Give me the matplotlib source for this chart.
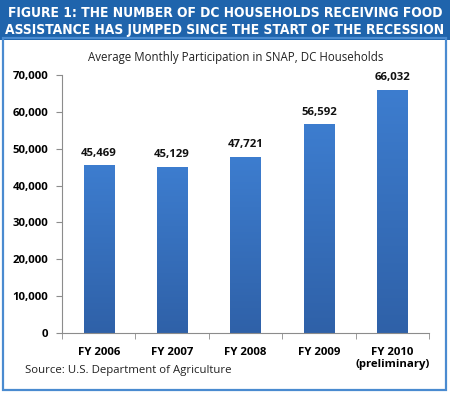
import matplotlib.pyplot as plt
import numpy as np
from matplotlib.colors import LinearSegmentedColormap
from matplotlib.patches import Rectangle
from matplotlib.ticker import FuncFormatter

categories = ["FY 2006", "FY 2007", "FY 2008", "FY 2009", "FY 2010\n(preliminary)"]
households = [45469, 45129, 47721, 56592, 66032]
y_ticks = [0, 10000, 20000, 30000, 40000, 50000, 60000, 70000]

HEADER = "#1f64ac"
FRAME = "#4a8bd0"
GRAY = "#8c8c8c"
TEXT_FONT = ["Open Sans", "DejaVu Sans"]
bar_cmap = LinearSegmentedColormap.from_list("bar", ["#2f61a8", "#3d7dcf"])

fig = plt.figure(figsize=(4.5, 3.93), dpi=100)

# header band and outer frame
fig.patches.append(Rectangle((0, 1 - 40 / 393), 1, 40 / 393, transform=fig.transFigure,
                             facecolor=HEADER, edgecolor="none", zorder=0))
fig.patches.append(Rectangle((3 / 450, 3 / 393), 443 / 450, 352 / 393, transform=fig.transFigure,
                             facecolor="none", edgecolor=FRAME, linewidth=1.6, zorder=0))
fig.text(0.5, 1 - 21.5 / 393,
         "FIGURE 1: THE NUMBER OF DC HOUSEHOLDS RECEIVING FOOD\nASSISTANCE HAS JUMPED SINCE THE START OF THE RECESSION",
         ha="center", va="center", color="white", fontsize=9.9, fontweight="bold",
         family="DejaVu Sans", fontstretch="condensed", linespacing=1.3)
fig.text(236 / 450, 1 - 57 / 393, "Average Monthly Participation in SNAP, DC Households",
         ha="center", va="center", fontsize=8.3, color="#222222", family=TEXT_FONT)
fig.text(25 / 450, 1 - 370 / 393, "Source: U.S. Department of Agriculture",
         ha="left", va="center", fontsize=8.2, color="#222222", family=TEXT_FONT)

ax = fig.add_axes([62 / 450, 1 - 333 / 393, 367 / 450, 258 / 393])
x = np.arange(len(categories))
bars = ax.bar(x, households, width=0.41, color="none", edgecolor="none", zorder=2)
grad = np.linspace(0, 1, 256).reshape(-1, 1)
for b in bars:
    im = ax.imshow(grad, cmap=bar_cmap, origin="lower", aspect="auto", zorder=2,
                   extent=[b.get_x(), b.get_x() + b.get_width(), 0, b.get_height()])
    im.set_clip_path(b)
for xi, v in zip(x, households):
    ax.text(xi, v + 1800, f"{v:,}", ha="center", va="bottom", fontsize=8.2,
            fontweight="bold", family=TEXT_FONT, color="#111111")

ax.set_xlim(-0.5, len(categories) - 0.5)
ax.set_ylim(0, 70000)
ax.set_yticks(y_ticks)
ax.yaxis.set_major_formatter(FuncFormatter(lambda v, _: f"{int(v):,}"))
ax.set_xticks(x)
ax.set_xticklabels(categories)
ax.set_xticks(np.arange(len(categories) + 1) - 0.5, minor=True)
ax.tick_params(axis="x", which="major", length=0, pad=10)
ax.tick_params(axis="x", which="minor", length=4, color=GRAY)
ax.tick_params(axis="y", length=4, color=GRAY, pad=6)
for lab in ax.get_xticklabels() + ax.get_yticklabels():
    lab.set_fontweight("bold")
    lab.set_fontsize(8.2)
    lab.set_family(TEXT_FONT)
for side in ["top", "right"]:
    ax.spines[side].set_visible(False)
for side in ["left", "bottom"]:
    ax.spines[side].set_color(GRAY)

fig.savefig("out.png", dpi=100)
